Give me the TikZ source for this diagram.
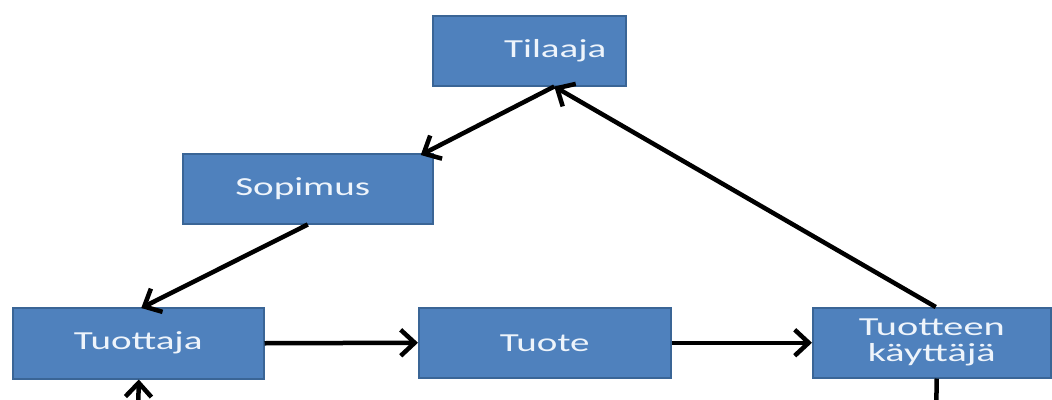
\documentclass[tikz,border=0pt]{standalone}
\usepackage{fontspec}
\setmainfont{Carlito}
\usetikzlibrary{arrows.meta,calc}
\definecolor{boxfill}{HTML}{4F81BD}
\definecolor{boxedge}{HTML}{3A6596}
\definecolor{boxtext}{HTML}{EEF4FB}
\tikzset{
  blockbox/.style={draw=boxedge, line width=1.5pt, fill=boxfill, anchor=north west,
    inner sep=0pt, text=boxtext, align=center,
    font=\fontsize{26}{28}\selectfont},
  boxlabel/.style={text=boxtext, inner sep=0pt, font=\fontsize{26}{28}\selectfont},
  flow/.style={line width=4.5pt, draw=black, -{Straight Barb[length=14pt,width=26pt,line width=4.5pt]}},
  plainflow/.style={line width=4.5pt, draw=black}
}
\newcommand{\wide}[2][1.5]{\scalebox{#1}[1]{#2}}
\begin{document}
\begin{tikzpicture}[x=1pt,y=-1pt]
\useasboundingbox (0,0) rectangle (1052,399);
\clip (0,0) rectangle (1052,399);
\node[blockbox, minimum width=193pt, minimum height=70pt] (til) at (432,15) {};
\node[boxlabel] (tiltext) at ([xshift=26pt]til.center) {\wide{Tilaaja}};
\node[blockbox, minimum width=250pt, minimum height=70pt] (sop) at (182,153) {};
\node[boxlabel] (soptext) at ([xshift=-5pt]sop.center) {\wide{Sopimus}};
\node[blockbox, minimum width=251pt, minimum height=71pt] (tuo) at (12,307) {\wide{Tuottaja}};
\node[blockbox, minimum width=252pt, minimum height=70pt] (tuote) at (418,307) {\wide{Tuote}};
\node[blockbox, minimum width=238pt, minimum height=70pt] (kay) at (812,307) {\wide[1.55]{Tuotteen}\\[-2pt]\wide[1.55]{käyttäjä}};
\coordinate (loopa) at (138,420);
\coordinate (loopb) at (936,420);
\draw[flow] ([xshift=25pt]til.south) -- ([xshift=113pt,yshift=-2pt]sop.north);
\draw[flow] ([xshift=4pt]kay.north) -- ([xshift=25pt]til.south);
\draw[flow] (sop.south) -- ([xshift=3pt,yshift=-1pt]tuo.north);
\draw[flow] (tuo.east) -- (tuote.west);
\draw[flow] (tuote.east) -- (kay.west);
\draw[flow] (loopa) -- ([xshift=0.5pt]tuo.south);
\draw[plainflow] ([xshift=5pt]kay.south) -- (loopb);
\end{tikzpicture}
\end{document}
